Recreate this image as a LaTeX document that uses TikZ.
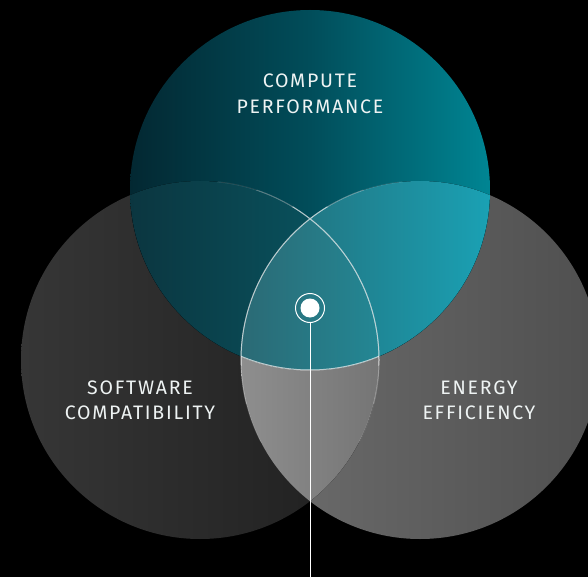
\documentclass[tikz,border=0pt]{standalone}
\usepackage{fontspec}
\newfontfamily\lblfont[LetterSpace=9]{Fira Sans}
\definecolor{lbltext}{HTML}{EEF3F3}
\begin{document}
\begin{tikzpicture}[x=1pt,y=-1pt,
  lbl/.style={text=lbltext,font=\lblfont\fontsize{19.5}{23}\selectfont,anchor=base,inner sep=0pt},
  glow/.style={draw=white,line width=1pt}]
\useasboundingbox (0,0) rectangle (588,577);
\fill[black] (0,0) rectangle (588,577);
\clip (0,0) rectangle (588,577);
\coordinate (T) at (310,190);
\coordinate (L) at (200,360);
\coordinate (R) at (420,360);
\def\rT{180pt}\def\rL{179pt}
% left circle
\begin{scope}
  \clip (L) circle (\rL);
  \fill[left color={rgb,255:red,54;green,54;blue,54}, right color={rgb,255:red,30;green,30;blue,30}] (21,0) rectangle (379,577);
\end{scope}
% right circle
\begin{scope}
  \clip (R) circle (\rL);
  \fill[left color={rgb,255:red,110;green,110;blue,110}, right color={rgb,255:red,79;green,79;blue,79}] (241,0) rectangle (599,577);
\end{scope}
% left and right
\begin{scope}
  \clip (L) circle (\rL);
  \clip (R) circle (\rL);
  \fill[left color={rgb,255:red,142;green,142;blue,142}, right color={rgb,255:red,117;green,117;blue,117}] (241,0) rectangle (379,577);
\end{scope}
% top circle
\begin{scope}
  \clip (T) circle (\rT);
  \fill[left color={rgb,255:red,3;green,40;blue,50}, right color={rgb,255:red,0;green,133;blue,147}, middle color={rgb,255:red,1;green,77;blue,90}] (130,0) rectangle (490,577);
\end{scope}
% top and left
\begin{scope}
  \clip (T) circle (\rT);
  \clip (L) circle (\rL);
  \fill[left color={rgb,255:red,11;green,54;blue,64}, right color={rgb,255:red,8;green,90;blue,102}] (130,0) rectangle (380,577);
\end{scope}
% top and right
\begin{scope}
  \clip (T) circle (\rT);
  \clip (R) circle (\rL);
  \fill[left color={rgb,255:red,36;green,104;blue,115}, right color={rgb,255:red,26;green,161;blue,180}] (241,0) rectangle (490,577);
\end{scope}
% all three
\begin{scope}
  \clip (T) circle (\rT);
  \clip (L) circle (\rL);
  \clip (R) circle (\rL);
  \fill[left color={rgb,255:red,43;green,106;blue,117}, right color={rgb,255:red,35;green,135;blue,148}] (242,0) rectangle (380,577);
\end{scope}
% fading outlines around the centre
\foreach \rr/\op in {150/0.12,122/0.25,95/0.55}{
  \begin{scope}
    \clip (310,300) circle (\rr pt);
    \draw[glow,opacity=\op] (L) circle (\rL) (R) circle (\rL);
    \begin{scope}
      \clip (L) circle (\rL);
      \clip (R) circle (\rL);
      \draw[glow,opacity=\op] (T) circle (\rT);
    \end{scope}
  \end{scope}
}
% labels
\node[lbl] (cp1) at (310,88) {COMPUTE};
\node[lbl] (cp2) at (310,114) {PERFORMANCE};
\node[lbl] (sw1) at (140,394) {SOFTWARE};
\node[lbl] (sw2) at (140,419.5) {COMPATIBILITY};
\node[lbl] (ee1) at (479,394) {ENERGY};
\node[lbl] (ee2) at (479,419.5) {EFFICIENCY};
% centre marker and line
\node[circle,fill=white,minimum size=19pt,inner sep=0pt] (dot) at (310,308) {};
\node[circle,draw=white,line width=1pt,minimum size=29pt,inner sep=0pt] (ring) at (310,308) {};
\coordinate (bottom) at (310,577);
\draw[white,line width=1pt] (ring.south) -- (bottom);
\end{tikzpicture}
\end{document}
